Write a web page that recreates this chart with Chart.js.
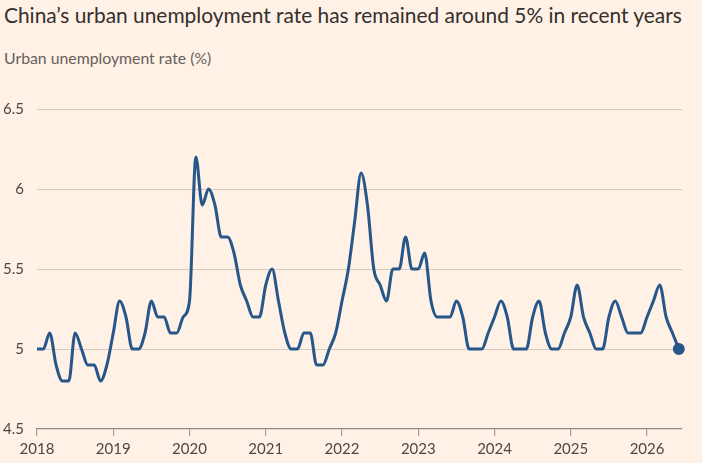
<!DOCTYPE html>
<html>
<head>
<meta charset="utf-8">
<script src="https://cdn.jsdelivr.net/npm/chart.js@4"></script>
<style>
    html, body { margin: 0; padding: 0; background: #fff1e5; }
    body { width: 702px; height: 463px; position: relative; overflow: hidden; font-family: Lato, sans-serif; }
    #title { position: absolute; left: 4px; top: 2px; font-size: 20.9px; color: #33302e; white-space: nowrap; }
    #subtitle { position: absolute; left: 4px; top: 48px; font-size: 15.8px; color: #66605c; white-space: nowrap; }
    #wrap { position: absolute; left: 0; top: 87px; width: 702px; height: 376px; }
</style>
</head>
<body>
<div id="title">China’s urban unemployment rate has remained around 5% in recent years</div>
<div id="subtitle">Urban unemployment rate (%)</div>
<div id="wrap"><canvas id="chart"></canvas></div>
<script>
const firstYear = 2018;

// monthly readings, Jan 2018 .. Jun 2026
const rates2018 = [5.0, 5.0, 5.1, 4.9, 4.8, 4.8, 5.1, 5.0, 4.9, 4.9, 4.8, 4.9];
const rates2019 = [5.1, 5.3, 5.2, 5.0, 5.0, 5.1, 5.3, 5.2, 5.2, 5.1, 5.1, 5.2];
const rates2020 = [5.3, 6.2, 5.9, 6.0, 5.9, 5.7, 5.7, 5.6, 5.4, 5.3, 5.2, 5.2];
const rates2021 = [5.4, 5.5, 5.3, 5.1, 5.0, 5.0, 5.1, 5.1, 4.9, 4.9, 5.0, 5.1];
const rates2022 = [5.3, 5.5, 5.8, 6.1, 5.9, 5.5, 5.4, 5.3, 5.5, 5.5, 5.7, 5.5];
const rates2023 = [5.5, 5.6, 5.3, 5.2, 5.2, 5.2, 5.3, 5.2, 5.0, 5.0, 5.0, 5.1];
const rates2024 = [5.2, 5.3, 5.2, 5.0, 5.0, 5.0, 5.2, 5.3, 5.1, 5.0, 5.0, 5.1];
const rates2025 = [5.2, 5.4, 5.2, 5.1, 5.0, 5.0, 5.2, 5.3, 5.2, 5.1, 5.1, 5.1];
const rates2026 = [5.2, 5.3, 5.4, 5.2, 5.1, 5.0];

const yTicks = [4.5, 5, 5.5, 6, 6.5];
const yearTicks = [2018, 2019, 2020, 2021, 2022, 2023, 2024, 2025, 2026];

const rates = [].concat(rates2018, rates2019, rates2020, rates2021, rates2022,
    rates2023, rates2024, rates2025, rates2026);
const points = rates.map((v, i) => ({ x: i, y: v }));
const lastIdx = points.length - 1;

const lineColor = '#26568a';
const gridColor = '#d4cac0';
const textColor = '#4d4845';

new Chart(document.getElementById('chart'), {
    type: 'line',
    data: {
        datasets: [{
            data: points,
            borderColor: lineColor,
            backgroundColor: lineColor,
            borderWidth: 3,
            cubicInterpolationMode: 'monotone',
            pointRadius: ctx => ctx.dataIndex === lastIdx ? 4.5 : 0,
            pointHoverRadius: 0,
            clip: 10,
            fill: false
        }]
    },
    options: {
        responsive: true,
        maintainAspectRatio: false,
        animation: false,
        layout: { padding: { top: 13, right: 20, left: 0, bottom: 0 } },
        plugins: {
            legend: { display: false },
            tooltip: { enabled: false }
        },
        scales: {
            x: {
                type: 'linear',
                min: 0,
                max: 101.5,
                afterBuildTicks: axis => {
                    axis.ticks = yearTicks.map(y => ({ value: (y - firstYear) * 12 }));
                },
                afterFit: scale => { scale.height = 34; },
                grid: {
                    drawOnChartArea: false,
                    drawTicks: true,
                    tickLength: 7,
                    color: '#a39d97',
                    lineWidth: 1.2
                },
                border: { display: true, color: '#8f8984', width: 1.2 },
                ticks: {
                    color: textColor,
                    font: { family: 'Lato', size: 15 },
                    padding: 4,
                    maxRotation: 0,
                    autoSkip: false,
                    callback: v => String(firstYear + v / 12)
                }
            },
            y: {
                min: 4.5,
                max: 6.5,
                afterBuildTicks: axis => {
                    axis.ticks = yTicks.map(v => ({ value: v }));
                },
                afterFit: scale => { scale.width = 37; },
                grid: {
                    color: ctx => ctx.tick && ctx.tick.value === 4.5 ? 'transparent' : gridColor,
                    drawTicks: false,
                    lineWidth: 1
                },
                border: { display: false },
                ticks: {
                    color: textColor,
                    font: { family: 'Lato', size: 15 },
                    padding: 13,
                    callback: v => String(v)
                }
            }
        }
    }
});
</script>
</body>
</html>
